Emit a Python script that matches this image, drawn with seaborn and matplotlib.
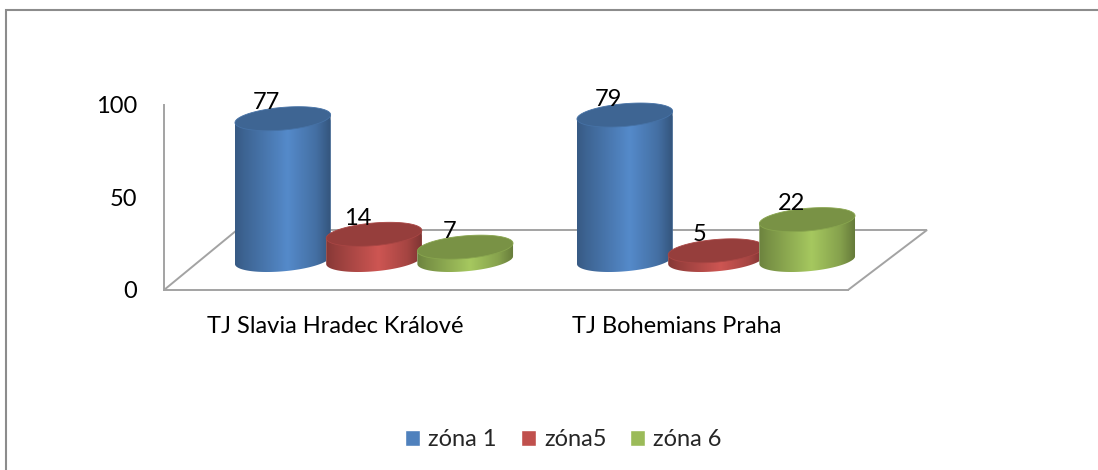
import numpy as np
import pandas as pd
import matplotlib
matplotlib.use('Agg')
import matplotlib.pyplot as plt
import seaborn as sns
from matplotlib.colors import LinearSegmentedColormap, to_rgb
from matplotlib.lines import Line2D
from matplotlib.patches import Polygon

teams = ['TJ Slavia Hradec Králové', 'TJ Bohemians Praha']
zones = ['zóna 1', 'zóna5', 'zóna 6']
zona1 = [77, 79]
zona5 = [14, 5]
zona6 = [7, 22]
colors = ['#4F81BD', '#C0504D', '#9BBB59']

W, H = 1098, 470
GRAY = '#A3A3A3'
FS = 17

sns.set_theme(style='white')
plt.rcParams['font.family'] = ['Lato', 'DejaVu Sans']
plt.rcParams['font.size'] = FS


def axes_px(fig, left, top, right, bottom):
    return fig.add_axes([left / W, 1 - bottom / H, (right - left) / W, (bottom - top) / H])


def fig_line(fig, xs, ys, lw=1.4, color=GRAY):
    fig.add_artist(Line2D([x / W for x in xs], [1 - y / H for y in ys], color=color, lw=lw,
                          solid_capstyle='butt', solid_joinstyle='miter', zorder=-1))


def ellipse(cx, cy, t, a=48.0, b=11.3, tilt=np.radians(5)):
    x = cx + a * np.cos(t) * np.cos(tilt) - b * np.sin(t) * np.sin(tilt)
    y = cy + a * np.cos(t) * np.sin(tilt) + b * np.sin(t) * np.cos(tilt)
    return x, y


df = pd.DataFrame({
    'team': teams * 3,
    'zone': np.repeat(zones, 2),
    'value': zona1 + zona5 + zona6,
})

fig = plt.figure(figsize=(W / 100, H / 100), dpi=100, facecolor='white')

# frame, only top and left show in the source
fig_line(fig, [6, 6, 1098], [470, 10, 10], lw=1.5, color='#8C8C8C')

# front axis with the labels
ax0 = axes_px(fig, 164, 105, 848, 290)
ax0.patch.set_alpha(0)
ax0.set_xlim(-0.5, 1.5)
ax0.set_ylim(0, 100)
ax0.set_xticks([0, 1], teams)
ax0.set_yticks([0, 50, 100])
ax0.tick_params(axis='x', length=0, pad=18.5, labelsize=FS, colors='black')
ax0.tick_params(axis='y', length=0, pad=19.5, labelsize=FS, colors='black')
sns.despine(ax=ax0)
for side in ['left', 'bottom']:
    ax0.spines[side].set_color(GRAY)
    ax0.spines[side].set_linewidth(1.4)

# floor
fig_line(fig, [164, 237, 927, 848], [290, 230, 230, 290])

# bars, value 0 sits on the middle of the base ellipse
# axes reach below 0 so the rounded bottoms are not cut
ax = axes_px(fig, 203, 76.5, 887, 296.7)
ax.patch.set_alpha(0)
sns.barplot(data=df, x='team', y='value', hue='zone', order=teams, hue_order=zones,
            palette=colors, width=0.8, gap=0, saturation=1, ax=ax)
ax.set_xlim(-0.5, 1.5)
ax.set_ylim(-20, 100)
ax.axis('off')

sx = ax.get_window_extent().width / 2.0
sy = ax.get_window_extent().height / 120.0
stops = [0, 0.1, 0.55, 0.85, 1]
factors = [0.70, 0.78, 1.07, 0.86, 0.66]
t0 = np.arctan2(-11.3 * np.sin(np.radians(5)), 48.0 * np.cos(np.radians(5)))
arc = np.linspace(t0 + np.pi, t0 + 2 * np.pi, 60)

for i, cont in enumerate(ax.containers):
    base = np.array(to_rgb(colors[i]))
    cmap = LinearSegmentedColormap.from_list(
        'cyl%d' % i, [(s, tuple(np.clip(base * f, 0, 1))) for s, f in zip(stops, factors)])
    for bar, val in zip(cont.patches, cont.datavalues):
        cx = bar.get_x() + bar.get_width() / 2
        new_w = 96 / sx
        bar.set_x(cx - new_w / 2)
        bar.set_width(new_w)
        bar.set_zorder(2 + i)

        bx, by = ellipse(0, 0, arc)
        tx, ty = ellipse(0, val * sy, arc[[-1, 0]])
        xs = cx + np.r_[bx, tx] / sx
        ys = np.r_[by, ty] / sy
        body = Polygon(np.c_[xs, ys], closed=True, fc='none', ec='none',
                       transform=ax.transData, clip_on=False)
        ax.add_patch(body)
        bar.set_clip_path(body)

        img = ax.imshow(np.linspace(0, 1, 128)[None, :], cmap=cmap, aspect='auto',
                        extent=[cx - new_w / 2, cx + new_w / 2, -20, val + 10],
                        zorder=2 + i + 0.1, interpolation='bilinear')
        img.set_clip_path(body)

        cap_t = np.linspace(0, 2 * np.pi, 120)
        kx, ky = ellipse(0, val * sy, cap_t)
        ax.add_patch(Polygon(np.c_[cx + kx / sx, ky / sy], closed=True, fc=tuple(base * 0.78),
                             ec=tuple(base * 0.88), lw=0.6, zorder=2 + i + 0.2, clip_on=False))

        ax.annotate(str(int(val)), (cx, val), xytext=(-16, 16), textcoords='offset pixels',
                    ha='center', va='center', fontsize=FS, color='black', zorder=10,
                    annotation_clip=False)

ax.set_xlim(-0.5, 1.5)
ax.set_ylim(-20, 100)

sns.move_legend(ax, 'center', bbox_to_anchor=(563.5 / W, 1 - 439.5 / H), bbox_transform=fig.transFigure,
                ncol=3, frameon=False, title=None, fontsize=FS, handlelength=0.64, handleheight=0.64,
                handletextpad=0.35, columnspacing=1.0)

fig.savefig('out.png', dpi=100, facecolor='white')
